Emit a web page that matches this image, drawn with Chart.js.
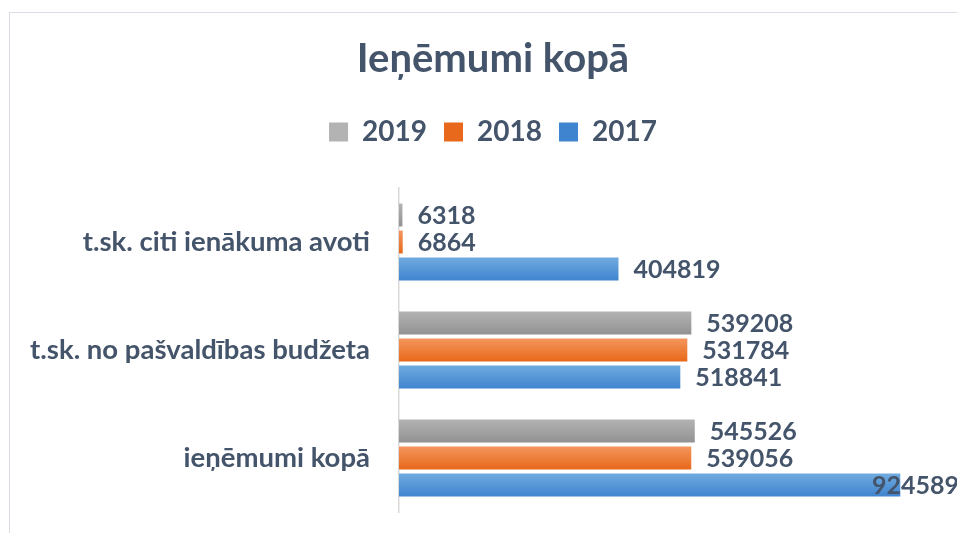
<!DOCTYPE html>
<html>
<head>
<meta charset="utf-8">
<script src="https://cdn.jsdelivr.net/npm/chart.js@4"></script>
<style>
  html, body { margin: 0; padding: 0; background: #fff; overflow: hidden; }
  #wrap { position: relative; width: 957px; height: 533px; overflow: hidden; }
  #frame { position: absolute; left: 9px; top: 12px; width: 2000px; height: 2000px;
           border: 1px solid #d9dee6; }
  #chart { position: absolute; left: 0; top: 0; }
</style>
</head>
<body>
<div id="wrap">
  <div id="frame"></div>
  <!-- the original picture is cut off on the right, so the canvas is a bit wider -->
  <canvas id="chart" width="986" height="533"></canvas>
</div>
<script>
/*_____________________DATA____________________*/

const categories = ['t.sk. citi ienākuma avoti', 't.sk. no pašvaldības budžeta', 'ieņēmumi kopā'];
const years = ['2019', '2018', '2017'];
const values2019 = [6318, 539208, 545526];
const values2018 = [6864, 531784, 539056];
const values2017 = [404819, 518841, 924589];

const textColor = '#44546A';
// top / bottom colour of each bar's gradient
const gradStops = [
  ['#b3b3b3', '#929292'],
  ['#f4955c', '#e8691b'],
  ['#70abdf', '#3f84cf'],
];

Chart.defaults.font.family = 'Lato';
Chart.defaults.font.weight = 'bold';
Chart.defaults.color = textColor;

/*_____________________PLUGINS____________________*/

// vertical gradient on every bar, like the Excel original
const barGradient = {
  id: 'barGradient',
  beforeDatasetsDraw(chart) {
    const ctx = chart.ctx;
    chart.data.datasets.forEach((ds, i) => {
      const meta = chart.getDatasetMeta(i);
      meta.data.forEach(el => {
        const top = el.y - el.height / 2;
        const g = ctx.createLinearGradient(0, top, 0, top + el.height);
        g.addColorStop(0, gradStops[i][0]);
        g.addColorStop(1, gradStops[i][1]);
        el.options = Object.assign({}, el.options, {backgroundColor: g});
      });
    });
  }
};

// value labels after the bar end
const valueLabels = {
  id: 'valueLabels',
  afterDatasetsDraw(chart) {
    const ctx = chart.ctx;
    ctx.save();
    ctx.font = 'bold 25px Lato';
    ctx.fillStyle = textColor;
    ctx.textBaseline = 'middle';
    chart.data.datasets.forEach((ds, i) => {
      const meta = chart.getDatasetMeta(i);
      meta.data.forEach((el, j) => {
        const txt = String(ds.data[j]);
        const w = ctx.measureText(txt).width;
        const x = Math.min(el.x + 15, chart.chartArea.right - 12 - w);
        ctx.fillText(txt, x, el.y + 1);
      });
    });
    ctx.restore();
  }
};

// extra room under the legend
const legendGap = {
  id: 'legendGap',
  beforeInit(chart) {
    const fit = chart.legend.fit;
    chart.legend.fit = function() {
      fit.bind(chart.legend)();
      this.height += 32;
    };
  }
};

/*_____________________CHART____________________*/

const chart_el = document.getElementById('chart');
const chart_setup = {
  labels: categories,
  datasets: [
    {label: years[0], data: values2019, backgroundColor: gradStops[0][0]},
    {label: years[1], data: values2018, backgroundColor: gradStops[1][1]},
    {label: years[2], data: values2017, backgroundColor: gradStops[2][1]},
  ]
};

new Chart(chart_el, {
  type: 'bar',
  data: chart_setup,
  plugins: [barGradient, valueLabels, legendGap],
  options: {
    indexAxis: 'y',
    responsive: false,
    animation: false,
    categoryPercentage: 0.75,
    barPercentage: 0.85,
    layout: {padding: {left: 15, right: 15, bottom: 21, top: 0}},
    plugins: {
      title: {
        display: true,
        text: 'Ieņēmumi kopā',
        font: {size: 40, weight: 'bold'},
        color: textColor,
        padding: {top: 35, bottom: 18},
      },
      legend: {
        position: 'top',
        labels: {
          boxWidth: 19,
          boxHeight: 19,
          padding: 17,
          font: {size: 28, weight: 'bold'},
          color: textColor,
        }
      },
      tooltip: {enabled: false},
    },
    scales: {
      x: {
        display: false,
        min: 0,
        max: 1055000,
      },
      y: {
        grid: {display: false, drawTicks: false},
        border: {display: true, color: '#d9d9d9', width: 1.5},
        ticks: {
          padding: 29,
          font: {size: 27.5, weight: 'bold'},
          color: textColor,
        },
        afterFit(scale) {
          scale.width = 384;
          scale.paddingTop = 0;
          scale.paddingBottom = 0;
        },
      }
    }
  }
});
</script>
</body>
</html>
